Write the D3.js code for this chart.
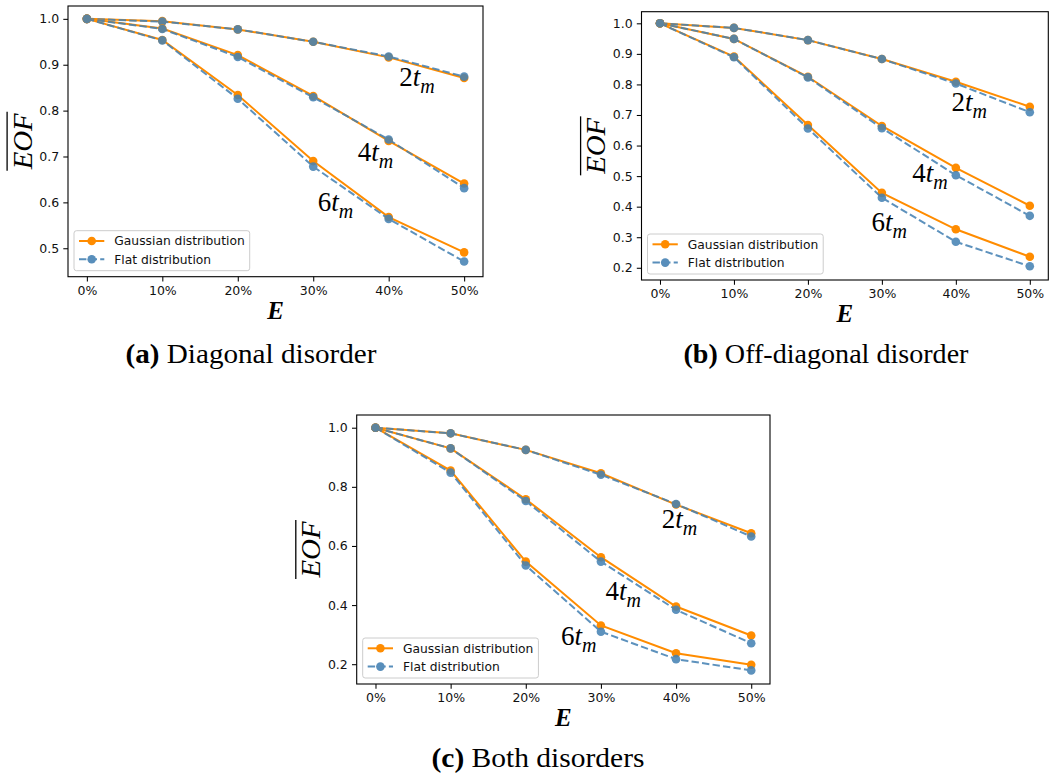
<!DOCTYPE html>
<html><head><meta charset="utf-8">
<script src="https://cdn.jsdelivr.net/npm/d3@7"></script>
<style>body{margin:0;background:#fff}svg{display:block}</style>
</head><body>
<svg id="chart" width="1059" height="778"></svg>
<script>
// ---------- data ----------
const xValues = [0, 10, 20, 30, 40, 50];
const xTickLabels = ["0%", "10%", "20%", "30%", "40%", "50%"];
const seriesNames = ["Gaussian distribution", "Flat distribution"];
const timeLabels = ["2", "4", "6"];

// (a) Diagonal disorder
const a_gauss_2 = [1.0, 0.995, 0.977, 0.950, 0.916, 0.871];
const a_flat_2  = [1.0, 0.994, 0.977, 0.950, 0.918, 0.874];
const a_gauss_4 = [1.0, 0.979, 0.921, 0.832, 0.734, 0.641];
const a_flat_4  = [1.0, 0.978, 0.917, 0.829, 0.737, 0.631];
const a_gauss_6 = [1.0, 0.954, 0.834, 0.690, 0.568, 0.491];
const a_flat_6  = [1.0, 0.953, 0.826, 0.678, 0.564, 0.471];
const a_yTicks = [0.5, 0.6, 0.7, 0.8, 0.9, 1.0];

// (b) Off-diagonal disorder
const b_gauss_2 = [1.0, 0.985, 0.945, 0.883, 0.809, 0.727];
const b_flat_2  = [1.0, 0.985, 0.945, 0.883, 0.803, 0.709];
const b_gauss_4 = [1.0, 0.949, 0.825, 0.664, 0.527, 0.403];
const b_flat_4  = [1.0, 0.949, 0.823, 0.657, 0.503, 0.370];
const b_gauss_6 = [1.0, 0.891, 0.667, 0.445, 0.326, 0.236];
const b_flat_6  = [1.0, 0.889, 0.656, 0.429, 0.285, 0.205];
const b_yTicks = [0.2, 0.3, 0.4, 0.5, 0.6, 0.7, 0.8, 0.9, 1.0];

// (c) Both disorders
const c_gauss_2 = [1.0, 0.981, 0.925, 0.846, 0.740, 0.643];
const c_flat_2  = [1.0, 0.981, 0.925, 0.841, 0.742, 0.632];
const c_gauss_4 = [1.0, 0.930, 0.758, 0.562, 0.395, 0.297];
const c_flat_4  = [1.0, 0.930, 0.752, 0.547, 0.384, 0.271];
const c_gauss_6 = [1.0, 0.855, 0.547, 0.331, 0.237, 0.198];
const c_flat_6  = [1.0, 0.848, 0.534, 0.310, 0.217, 0.179];
const c_yTicks = [0.2, 0.4, 0.6, 0.8, 1.0];

// annotation anchors (x in %, y in EOF units)
const a_annot = [[41.4, 0.853], [35.9, 0.690], [30.6, 0.581]];
const b_annot = [[39.4, 0.713], [34.1, 0.482], [28.6, 0.320]];
const c_annot = [[38.1, 0.660], [30.6, 0.417], [24.7, 0.265]];

const captions = [["(a)", "Diagonal disorder"], ["(b)", "Off-diagonal disorder"], ["(c)", "Both disorders"]];

// ---------- layout ----------
const panels = [
  {frame: {x0: 68, x1: 483, y0: 6, y1: 276.7}, yDomain: [0.438, 1.028], yTicks: a_yTicks,
   gauss: [a_gauss_2, a_gauss_4, a_gauss_6], flat: [a_flat_2, a_flat_4, a_flat_6], annot: a_annot,
   caption: captions[0], capX: 251, capY: 363, capW: 251},
  {frame: {x0: 641.5, x1: 1048.3, y0: 11.7, y1: 280}, yDomain: [0.160, 1.038], yTicks: b_yTicks,
   gauss: [b_gauss_2, b_gauss_4, b_gauss_6], flat: [b_flat_2, b_flat_4, b_flat_6], annot: b_annot,
   caption: captions[1], capX: 826, capY: 363, capW: 285},
  {frame: {x0: 356.7, x1: 770, y0: 415, y1: 684}, yDomain: [0.133, 1.043], yTicks: c_yTicks,
   gauss: [c_gauss_2, c_gauss_4, c_gauss_6], flat: [c_flat_2, c_flat_4, c_flat_6], annot: c_annot,
   caption: captions[2], capX: 538, capY: 767, capW: 213}
];

const ORANGE = "#ff8c00", BLUE = "#4682b4";
const tickFont = "'DejaVu Sans', sans-serif";
const serif = "'Liberation Serif', 'Times New Roman', serif";
const svg = d3.select("#chart");

panels.forEach(p => {
  const f = p.frame;
  const x = d3.scaleLinear().domain([-2.5, 52.5]).range([f.x0, f.x1]);
  const y = d3.scaleLinear().domain(p.yDomain).range([f.y1, f.y0]);
  const g = svg.append("g");

  // axes
  const xAxis = d3.axisBottom(x).tickValues(xValues).tickFormat((d, i) => xTickLabels[i])
    .tickSizeOuter(0).tickSize(4.7).tickPadding(4.5);
  const yAxis = d3.axisLeft(y).tickValues(p.yTicks).tickFormat(d3.format(".1f"))
    .tickSizeOuter(0).tickSize(4.7).tickPadding(4.2);
  const gx = g.append("g").attr("transform", `translate(0,${f.y1})`).call(xAxis);
  const gy = g.append("g").attr("transform", `translate(${f.x0},0)`).call(yAxis);
  [gx, gy].forEach(ax => {
    ax.select(".domain").remove();
    ax.selectAll("line").attr("stroke", "#000").attr("stroke-width", 1.05);
    ax.selectAll("text").attr("font-family", tickFont).attr("font-size", 12.5).attr("fill", "#111");
  });

  const line = d3.line().x((d, i) => x(xValues[i])).y(d => y(d));
  const plot = g.append("g");
  for (let k = 0; k < 3; k++) {
    const gs = p.gauss[k], fs = p.flat[k];
    plot.append("path").datum(gs).attr("d", line).attr("fill", "none")
      .attr("stroke", ORANGE).attr("stroke-width", 2);
    plot.append("g").selectAll("circle").data(gs).join("circle")
      .attr("cx", (d, i) => x(xValues[i])).attr("cy", d => y(d)).attr("r", 4.3).attr("fill", ORANGE);
    const fg = plot.append("g").attr("opacity", 0.87);
    fg.append("path").datum(fs).attr("d", line).attr("fill", "none")
      .attr("stroke", BLUE).attr("stroke-width", 2).attr("stroke-dasharray", "7.4,3.2");
    fg.append("g").selectAll("circle").data(fs).join("circle")
      .attr("cx", (d, i) => x(xValues[i])).attr("cy", d => y(d)).attr("r", 4.3).attr("fill", BLUE);
  }

  // frame
  g.append("rect").attr("x", f.x0).attr("y", f.y0).attr("width", f.x1 - f.x0).attr("height", f.y1 - f.y0)
    .attr("fill", "none").attr("stroke", "#000").attr("stroke-width", 1.1);

  // annotations
  p.annot.forEach((a, k) => {
    const t = g.append("text").attr("x", x(a[0])).attr("y", y(a[1]))
      .attr("font-family", serif).attr("font-size", 27).attr("fill", "#000");
    t.append("tspan").text(timeLabels[k]);
    t.append("tspan").attr("font-style", "italic").text("t");
    t.append("tspan").attr("font-style", "italic").attr("font-size", 20).attr("dy", 7).text("m");
  });

  // legend
  const lx = f.x0 + 6, lh = 40, ly = f.y1 - 6 - lh;
  const leg = g.append("g");
  const box = leg.append("rect").attr("x", lx).attr("y", ly).attr("height", lh).attr("rx", 2.5)
    .attr("fill", "#fff").attr("fill-opacity", 0.8).attr("stroke", "#cccccc").attr("stroke-width", 1);
  let maxW = 0;
  seriesNames.forEach((name, i) => {
    const ry = ly + 10.3 + i * 18.3;
    const col = i === 0 ? ORANGE : BLUE;
    const rg = leg.append("g").attr("opacity", i === 0 ? 1 : 0.9);
    rg.append("line").attr("x1", lx + 5).attr("x2", lx + 30.3).attr("y1", ry).attr("y2", ry)
      .attr("stroke", col).attr("stroke-width", 2).attr("stroke-dasharray", i === 0 ? null : "7.4,3.2");
    rg.append("circle").attr("cx", lx + 17.7).attr("cy", ry).attr("r", 4.3).attr("fill", col);
    const tx = leg.append("text").attr("x", lx + 40.3).attr("y", ry).attr("dy", "0.36em")
      .attr("font-family", tickFont).attr("font-size", 12.3).attr("fill", "#111").text(name);
    maxW = Math.max(maxW, tx.node().getComputedTextLength());
  });
  box.attr("width", 40.3 + maxW + 5);

  // y label EOF with overline
  const cy = (f.y0 + f.y1) / 2;
  const yl = g.append("g").attr("transform", `translate(${f.x0 - 36.5},${cy}) rotate(-90)`);
  yl.append("text").attr("x", 0).attr("y", 0).attr("text-anchor", "middle")
    .attr("font-family", serif).attr("font-style", "italic").attr("font-size", 27)
    .attr("textLength", 56).attr("lengthAdjust", "spacingAndGlyphs").attr("fill", "#000").text("EOF");
  yl.append("line").attr("x1", -29.5).attr("x2", 29.5).attr("y1", -24.4).attr("y2", -24.4)
    .attr("stroke", "#000").attr("stroke-width", 1.3);

  // x label E
  g.append("text").attr("x", (f.x0 + f.x1) / 2).attr("y", f.y1 + 42).attr("text-anchor", "middle")
    .attr("font-family", serif).attr("font-style", "italic").attr("font-weight", "bold")
    .attr("font-size", 25).attr("fill", "#000").text("E");

  // caption
  const cap = g.append("text").attr("x", p.capX).attr("y", p.capY).attr("text-anchor", "middle")
    .attr("font-family", serif).attr("font-size", 28).attr("fill", "#000")
    .attr("textLength", p.capW).attr("lengthAdjust", "spacingAndGlyphs");
  cap.append("tspan").attr("font-weight", "bold").text(p.caption[0]);
  cap.append("tspan").text("\u00a0" + p.caption[1]);
});
</script>
</body></html>
